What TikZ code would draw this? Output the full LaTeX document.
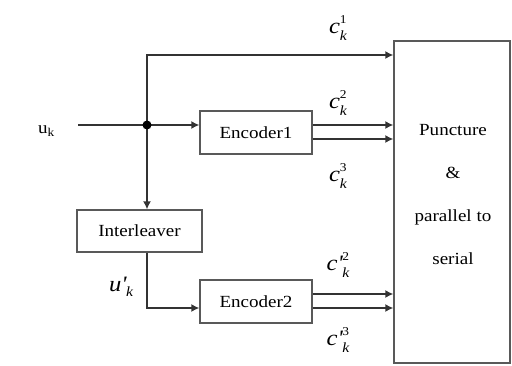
\documentclass[tikz,border=0pt]{standalone}
\usepackage{fontspec}
\setmainfont{Liberation Serif}[FakeStretch=1.12]
\usetikzlibrary{arrows.meta}
\newcommand{\codebit}[2]{{\itshape c#1}\rlap{\raisebox{10pt}{\fontsize{12}{12}\selectfont #2}}%
  \raisebox{-7pt}{\fontsize{14}{14}\selectfont\itshape k}}

\begin{document}
\begin{tikzpicture}[x=1pt, y=-1pt,
    line/.style={draw=black!80, line width=1.4pt},
    flow/.style={line, -{Latex[length=8pt,width=8pt]}},
    blk/.style={draw=black!65, line width=1.4pt, minimum width=112pt, minimum height=43pt,
      inner sep=0pt, font=\fontsize{17}{20}\selectfont},
    lbl/.style={font=\fontsize{22}{26}\selectfont}]
    \useasboundingbox (0,0) rectangle (512,365);
    % blocks
    \node[blk] (enc1) at (256,132.5) {Encoder1};
    \node[blk] (enc2) at (256,301.5) {Encoder2};
    \node[blk, minimum width=125pt, minimum height=42pt] (intl) at (139.5,231) {Interleaver};
    \node[blk, minimum width=116pt, minimum height=322pt] (punc) at (452,202) {};
    \node[align=center, font=\fontsize{17}{43}\selectfont] (ptxt) at (453,195)
      {Puncture\\\&\\parallel to\\serial};
    % input
    \node[minimum width=64pt, font=\fontsize{17}{20}\selectfont] (uk) at (46,131) {u$_\mathrm{k}$};
    \coordinate (jn) at (147,125);
    \coordinate (tp) at (147,55);
    \coordinate (bn) at (147,308);
    \draw[line] (uk.east |- jn) -- (jn);
    \draw[flow] (jn) -- (jn -| enc1.west);
    \draw[flow] (jn) -- (tp) -- (tp -| punc.west);
    \draw[flow] (jn) -- (jn |- intl.north);
    \draw[flow] (bn |- intl.south) -- (bn) -- (bn -| enc2.west);
    \fill[black] (jn) circle (4.5pt);
    % encoder outputs
    \foreach \e in {enc1,enc2}
      \foreach \s in {7.5,-6.5}
        \draw[flow] ([yshift=\s pt]\e.east) -- ([yshift=\s pt]\e.east -| punc.west);
    % labels
    \node[lbl] (c1) at (338,28) {\codebit{}{1}};
    \node[lbl] (c2) at (338,103) {\codebit{}{2}};
    \node[lbl] (c3) at (338,176) {\codebit{}{3}};
    \node[lbl] (cp2) at (338,265) {\codebit{\textquotesingle}{2}};
    \node[lbl] (cp3) at (338,340) {\codebit{\textquotesingle}{3}};
    \node[lbl] (upk) at (121,287) {{\itshape u\textquotesingle}\raisebox{-5pt}{\fontsize{14}{14}\selectfont\itshape k}};
\end{tikzpicture}
\end{document}
